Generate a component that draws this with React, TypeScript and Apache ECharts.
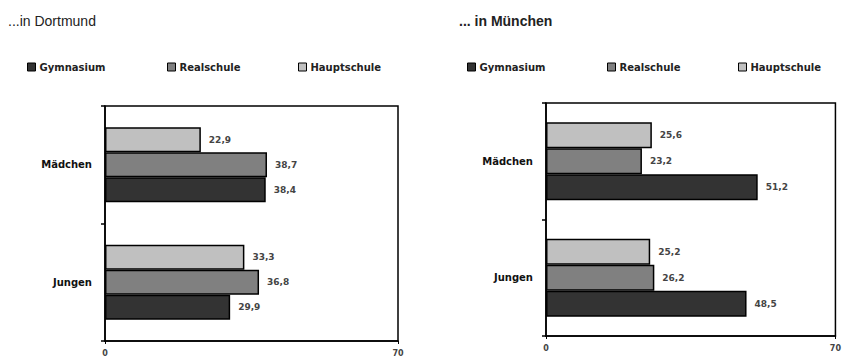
import React, { useEffect, useRef } from "react";
import * as echarts from "echarts";

const categories = ["Jungen", "Mädchen"];
const seriesNames = ["Gymnasium", "Realschule", "Hauptschule"];
const dortmundGym = [29.9, 38.4];
const dortmundReal = [36.8, 38.7];
const dortmundHaupt = [33.3, 22.9];
const muenchenGym = [48.5, 51.2];
const muenchenReal = [26.2, 23.2];
const muenchenHaupt = [25.2, 25.6];
const axisTicks = [0, 70];
const titles = ["...in Dortmund", "... in München"];

const colors = ["#333333", "#808080", "#c0c0c0"];
const FONT = "DejaVu Sans";

export default function App() {
  const ref = useRef<HTMLDivElement>(null);
  useEffect(() => {
    if (!ref.current) return;
    const chart = echarts.init(ref.current, undefined, { renderer: "svg" });
    const grids = [
      { left: 105, top: 106, width: 293, height: 235 },
      { left: 546, top: 103, width: 291, height: 233 },
    ];
    const data = [
      [dortmundGym, dortmundReal, dortmundHaupt],
      [muenchenGym, muenchenReal, muenchenHaupt],
    ];
    const series: any[] = [];
    data.forEach((set, gi) => {
      [2, 1, 0].forEach((si) => {
        series.push({
          type: "bar",
          name: seriesNames[si],
          xAxisIndex: gi,
          yAxisIndex: gi,
          data: set[si],
          barGap: "0%",
          barCategoryGap: gi === 0 ? "36%" : "33%",
          itemStyle: { color: colors[si], borderColor: "#000", borderWidth: 1.5 },
          label: {
            show: true,
            position: "right",
            distance: 8,
            fontFamily: FONT,
            fontSize: 9,
            fontWeight: "bold",
            color: "#444",
            formatter: (p: any) => String(p.value.toFixed(1)).replace(".", ","),
          },
        });
      });
    });
    const legendLefts = [
      [27, 167, 298],
      [467, 607, 738],
    ];
    const legends: any[] = [];
    legendLefts.forEach((row) => {
      row.forEach((l, i) => {
        legends.push({
          data: [seriesNames[i]],
          left: l,
          top: 62,
          itemWidth: 8,
          itemHeight: 8,
          itemGap: 5,
          selectedMode: false,
          textStyle: { fontFamily: FONT, fontSize: 10, fontWeight: "bold", color: "#222", padding: [0, 0, 0, -1] },
          itemStyle: { borderColor: "#000", borderWidth: 1 },
          icon: "rect",
          padding: 0,
        });
      });
    });
    chart.setOption({
      animation: false,
      title: [
        { text: titles[0], left: 8, top: 14, padding: 0, textStyle: { fontFamily: "Liberation Sans", fontSize: 14, fontWeight: "normal", color: "#222" } },
        { text: titles[1], left: 459, top: 14, padding: 0, textStyle: { fontFamily: "Liberation Sans", fontSize: 14, fontWeight: "bold", color: "#222" } },
      ],
      legend: legends,
      grid: grids.map((g) => ({ ...g, show: true, borderColor: "#000", borderWidth: 1.5, backgroundColor: "transparent" })),
      xAxis: grids.map((_, i) => ({
        type: "value",
        gridIndex: i,
        min: axisTicks[0],
        max: axisTicks[1],
        interval: axisTicks[1] - axisTicks[0],
        splitLine: { show: false },
        axisLine: { show: true, lineStyle: { color: "#000", width: 1.5 } },
        axisTick: { show: true, length: 3, lineStyle: { color: "#000" } },
        axisLabel: { fontFamily: FONT, fontSize: 8, fontWeight: "bold", color: "#444", margin: 8 },
      })),
      yAxis: grids.map((_, i) => ({
        type: "category",
        gridIndex: i,
        data: categories,
        axisLine: { show: true, lineStyle: { color: "#000", width: 1.5 } },
        axisTick: { show: true, length: 4, lineStyle: { color: "#000", width: 1.5 } },
        axisLabel: { fontFamily: FONT, fontSize: 10, fontWeight: "bold", color: "#111", margin: 13 },
      })),
      series,
    });
    return () => chart.dispose();
  }, []);
  return <div ref={ref} style={{ position: "fixed", left: 0, top: 0, width: 844, height: 358, background: "#fff" }} />;
}
